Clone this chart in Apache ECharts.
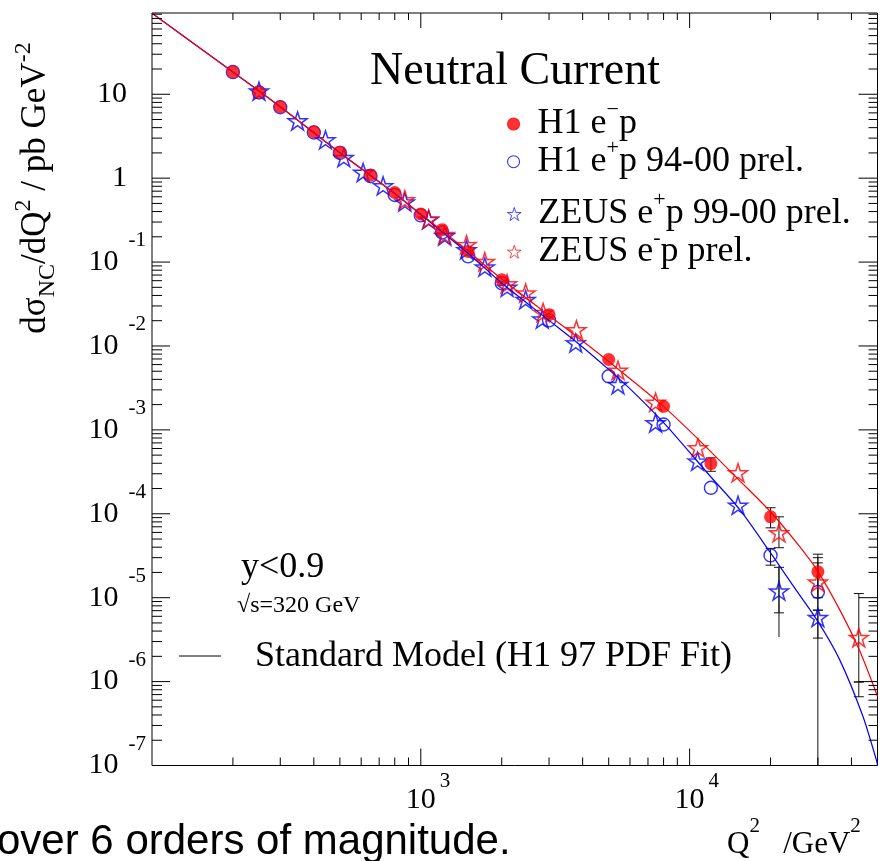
<!DOCTYPE html>
<html><head><meta charset="utf-8">
<script src="https://cdn.jsdelivr.net/npm/echarts@6/dist/echarts.min.js"></script>
<style>html,body{margin:0;padding:0;background:#fff}#c{width:882px;height:861px}</style>
</head><body><div id="c"></div>
<script>
const SERIF = 'Liberation Serif';
const SANS = 'Liberation Sans';

// ---- axis ranges and tick values ----
const X_MIN = 100, X_MAX = 50000, Y_MIN = 1e-7, Y_MAX = 93;
const xLabelValues = [1000, 10000];
const yLabelValues = [1e-7, 1e-6, 1e-5, 1e-4, 1e-3, 1e-2, 0.1, 1, 10];
const xMajorTicks = [1000, 10000];
const xMinorTicks = [200,300,400,500,600,700,800,900,2000,3000,4000,5000,6000,7000,8000,9000,20000,30000,40000];
const yMajorTicks = [1e-7, 1e-6, 1e-5, 1e-4, 1e-3, 1e-2, 0.1, 1, 10];
const yMinorMantissas = [2,3,4,5,6,7,8,9];

// ---- Standard Model curves ----
const smQ2_em = [100,200,299,497,789,997,1491,1995,2973,3900,4958,7937,10894,15080,19950,25640,29990,36110,42850,50000];
const smXS_em = [92.1,18.43,7.16,2.04,0.678,0.376,0.1363,0.0632,0.0236,0.01222,0.00668,0.001946,7.46e-4,2.63e-4,1.065e-4,4.08e-5,2.06e-5,7.26e-6,2.36e-6,6.68e-7];
const smQ2_ep = [100,200,299,497,789,997,1491,1995,2973,3900,4958,6154,8191,11869,15346,19950,24210,29990,36110,44090,49430,50000];
const smXS_ep = [92.1,18.43,7.16,2.04,0.678,0.371,0.129,0.0567,0.0206,0.01036,0.00537,0.002858,0.001125,2.86e-4,1.125e-4,3.46e-5,1.40e-5,5.22e-6,1.84e-6,3.89e-7,1.19e-7,1.02e-7];

// ---- H1 e-p (filled red) ----
const h1emQ2 = [200,250,300,400,500,650,800,1000,1200,1500,2000,3000,5000,8000,12000,20000,30000];
const h1emXS = [18.6,10.6,7.1,3.58,2.04,1.09,0.675,0.375,0.243,0.134,0.0615,0.0236,0.0069,0.00191,3.97e-4,9.2e-5,2.04e-5];
// ---- H1 e+p 94-00 (open blue circles) ----
const h1epQ2 = [200,250,300,400,500,650,800,1000,1200,1500,2000,3000,5000,8000,12000,20000,30000];
const h1epXS = [18.4,10.5,7.0,3.5,2.0,1.06,0.63,0.36,0.225,0.117,0.056,0.0202,0.00435,0.00116,2.04e-4,3.19e-5,1.17e-5];
// ---- ZEUS e+p 99-00 (blue stars) ----
const zepQ2 = [250,348,442,517,610,724,872,1070,1227,1479,1730,2094,2455,2830,3770,5414,7470,10700,15140,21500,30000];
const zepXS = [10.9,4.81,2.86,1.76,1.17,0.81,0.52,0.32,0.205,0.14,0.087,0.050,0.0356,0.0209,0.01086,0.00346,0.00121,4.23e-4,1.26e-4,1.2e-5,5.8e-6];
// ---- ZEUS e-p (red stars) ----
const zemQ2 = [872,1070,1227,1479,1730,2094,2455,2850,3793,5414,7474,10740,15140,21500,30000,42600];
const zemXS = [0.552,0.325,0.213,0.161,0.101,0.055,0.0427,0.025,0.0156,0.00513,0.00213,6.1e-4,3.08e-4,5.94e-5,1.53e-5,3.34e-6];

// ---- error bars ----
const errQ2  = [12000, 20000, 30000, 20000, 30000, 21500, 30000, 42600, 42600, 21500, 21500, 30000];
const errLo  = [3.21e-4, 6.8e-5, 1.0e-5, 2.44e-5, 1e-9, 3.94e-5, 7.1e-6, 6.6e-7, 9.9e-7, 3.4e-6, 6.6e-6, 3.3e-6];
const errHi  = [4.64e-4, 1.18e-4, 3.3e-5, 3.87e-5, 2.6e-5, 9.2e-5, 3.0e-5, 1.12e-5, 9.9e-7, 2.4e-5, 2.3e-5, 7.1e-6];
const errCap = [1, 1, 1, 1, 1, 1, 1, 1, 1, 0, 1, 1];

const STAR = 'path://M50 0L61.17 34.63L97.55 34.55L68.07 55.87L79.39 90.45L50 69L20.61 90.45L31.93 55.87L2.45 34.55L38.83 34.63Z';
const zip = (a, b) => a.map((v, i) => [v, b[i]]);

// tick marks data: [x, y, side, length]
const tickData = [];
xMajorTicks.forEach(v => { tickData.push([v, Y_MIN, 0, 17]); tickData.push([v, Y_MAX, 1, 15]); });
xMinorTicks.forEach(v => { tickData.push([v, Y_MIN, 0, 8]); tickData.push([v, Y_MAX, 1, 7]); });
yMajorTicks.forEach(v => { tickData.push([X_MIN, v, 2, 18]); tickData.push([X_MAX, v, 3, 19]); });
yMajorTicks.forEach(v => yMinorMantissas.forEach(m => {
  const t = v * m;
  if (t < Y_MAX) { tickData.push([X_MIN, t, 2, 10]); tickData.push([X_MAX, t, 3, 9]); }
}));

const errData = errQ2.map((q, i) => [q, errLo[i], errHi[i], errCap[i]]);

function renderTick(params, api) {
  const p = api.coord([api.value(0), api.value(1)]);
  const side = api.value(2), len = api.value(3);
  let x2 = p[0], y2 = p[1];
  if (side === 0) y2 -= len; else if (side === 1) y2 += len; else if (side === 2) x2 += len; else x2 -= len;
  return {type: 'line', shape: {x1: p[0], y1: p[1], x2: x2, y2: y2}, style: {stroke: '#000', lineWidth: 1}};
}
function renderErr(params, api) {
  const q = api.value(0);
  const lo = api.coord([q, api.value(1)]);
  const hi = api.coord([q, api.value(2)]);
  const cap = api.value(3);
  const children = [{type: 'line', shape: {x1: lo[0], y1: lo[1], x2: hi[0], y2: hi[1]}, style: {stroke: '#111', lineWidth: 1}}];
  if (cap) {
    children.push({type: 'line', shape: {x1: lo[0] - 5, y1: lo[1], x2: lo[0] + 5, y2: lo[1]}, style: {stroke: '#111', lineWidth: 1}});
    children.push({type: 'line', shape: {x1: hi[0] - 5, y1: hi[1], x2: hi[0] + 5, y2: hi[1]}, style: {stroke: '#111', lineWidth: 1}});
  }
  return {type: 'group', children: children};
}

const expOf = v => Math.round(Math.log10(v));
const legendNames = {
  'H1 e-p': '{t|H1 e}{s|\u2212}{t|p}',
  'H1 e+p 94-00 prel.': '{t|H1 e}{s|+}{t|p 94-00 prel.}',
  'ZEUS e+p 99-00 prel.': '{t|ZEUS e}{s|+}{t|p 99-00 prel.}',
  'ZEUS e-p prel.': '{t|ZEUS e}{s|-}{t|p prel.}'
};
const legendText = {
  fontFamily: SERIF, fontSize: 36, color: '#000', lineHeight: 49,
  rich: {
    t: {fontFamily: SERIF, fontSize: 36, lineHeight: 49, color: '#000'},
    s: {fontFamily: SERIF, fontSize: 22, lineHeight: 10, verticalAlign: 'top', color: '#000'}
  }
};

const chart = echarts.init(document.getElementById('c'), null, {renderer: 'canvas'});
chart.setOption({
  animation: false,
  backgroundColor: '#fff',
  grid: {left: 152, top: 13, width: 725.5, height: 752.5, show: true, borderColor: '#000', borderWidth: 1, backgroundColor: 'transparent'},
  xAxis: {
    type: 'log', logBase: 10, min: X_MIN, max: X_MAX,
    axisLine: {show: false}, axisTick: {show: false}, splitLine: {show: false},
    axisLabel: {
      customValues: xLabelValues, margin: 5.5,
      formatter: v => '{l| }{b|10}{s|' + expOf(v) + '}',
      rich: {
        l: {width: 14.5, fontSize: 30, lineHeight: 58},
        b: {fontFamily: SERIF, fontSize: 30, lineHeight: 58, color: '#000'},
        s: {fontFamily: SERIF, fontSize: 21, lineHeight: 10, verticalAlign: 'top', padding: [0, 0, 0, 4], color: '#000'}
      }
    }
  },
  yAxis: {
    type: 'log', logBase: 10, min: Y_MIN, max: Y_MAX,
    axisLine: {show: false}, axisTick: {show: false}, splitLine: {show: false},
    axisLabel: {
      customValues: yLabelValues, margin: 6,
      formatter: v => { const e = expOf(v); if (e === 1) return '{p|10}'; if (e === 0) return '{p|1}'; return '{b|10}{s|' + e + '}'; },
      rich: {
        p: {fontFamily: SERIF, fontSize: 30, lineHeight: 64, padding: [0, 19, 0, 0], color: '#000'},
        b: {fontFamily: SERIF, fontSize: 30, lineHeight: 64, color: '#000'},
        s: {fontFamily: SERIF, fontSize: 21, lineHeight: 10, verticalAlign: 'top', padding: [0, 0, 0, 10], color: '#000'}
      }
    }
  },
  legend: [
    {data: [{name: 'H1 e-p', icon: 'circle'}, {name: 'H1 e+p 94-00 prel.', icon: 'circle'}],
     left: 507, top: 99.5, orient: 'vertical', itemWidth: 38, itemHeight: 12, itemGap: -11.3, padding: 0,
     selectedMode: false, formatter: n => legendNames[n], textStyle: legendText, itemStyle: {borderWidth: 1.1}},
    {data: [{name: 'ZEUS e+p 99-00 prel.', icon: STAR}, {name: 'ZEUS e-p prel.', icon: STAR}],
     left: 507, top: 189.5, orient: 'vertical', itemWidth: 38, itemHeight: 13, itemGap: -11.3, padding: 0,
     selectedMode: false, formatter: n => legendNames[n], textStyle: legendText, itemStyle: {borderWidth: 0.9}}
  ],
  series: [
    {name: 'SM e+p', type: 'line', data: zip(smQ2_ep, smXS_ep), showSymbol: false, smooth: 0.25,
     lineStyle: {color: '#0000ff', width: 1.2}, itemStyle: {color: '#0000ff'}, silent: true},
    {name: 'SM e-p', type: 'line', data: zip(smQ2_em, smXS_em), showSymbol: false, smooth: 0.25,
     lineStyle: {color: '#ff0000', width: 1.2}, itemStyle: {color: '#ff0000'}, silent: true},
    {name: 'errors', type: 'custom', renderItem: renderErr, data: errData, encode: {x: 0, y: 1}, clip: true, silent: true},
    {name: 'H1 e+p 94-00 prel.', type: 'scatter', data: zip(h1epQ2, h1epXS), symbol: 'circle', symbolSize: 13,
     itemStyle: {color: 'rgba(0,0,0,0)', borderColor: '#0000ff', borderWidth: 1.4}},
    {name: 'ZEUS e+p 99-00 prel.', type: 'scatter', data: zip(zepQ2, zepXS), symbol: STAR, symbolSize: [19, 18],
     itemStyle: {color: 'rgba(0,0,0,0)', borderColor: '#0000ff', borderWidth: 1.5}},
    {name: 'ZEUS e-p prel.', type: 'scatter', data: zip(zemQ2, zemXS), symbol: STAR, symbolSize: [19, 18],
     itemStyle: {color: 'rgba(0,0,0,0)', borderColor: '#ff0000', borderWidth: 1.5}},
    {name: 'H1 e-p', type: 'scatter', data: zip(h1emQ2, h1emXS), symbol: 'circle', symbolSize: 13,
     itemStyle: {color: '#ff0000', borderColor: '#ff0000', borderWidth: 0}},
    {name: 'ticks', type: 'custom', renderItem: renderTick, data: tickData, encode: {x: 0, y: 1}, clip: false, silent: true, z: 10}
  ],
  graphic: [
    {type: 'text', x: 370, y: 72, style: {text: 'Neutral Current', fontFamily: SERIF, fontSize: 46, fill: '#000', align: 'left', verticalAlign: 'middle'}},
    {type: 'text', x: 241, y: 568, style: {text: 'y<0.9', fontFamily: SERIF, fontSize: 36, fill: '#000', align: 'left', verticalAlign: 'middle'}},
    {type: 'text', x: 237, y: 606, style: {text: '\u221As=320 GeV', fontFamily: SERIF, fontSize: 24, fill: '#000', align: 'left', verticalAlign: 'middle'}},
    {type: 'line', shape: {x1: 179, y1: 656, x2: 221, y2: 656}, style: {stroke: '#000', lineWidth: 1}},
    {type: 'text', x: 255, y: 657, style: {text: 'Standard Model (H1 97 PDF Fit)', fontFamily: SERIF, fontSize: 36, fill: '#000', align: 'left', verticalAlign: 'middle'}},
    {type: 'text', x: 727, y: 845, style: {
      text: '{t|Q}{s|2}{t|   /GeV}{s|2}', align: 'left', verticalAlign: 'middle', fontFamily: SERIF, fontSize: 31, fill: '#000',
      rich: {t: {fontFamily: SERIF, fontSize: 31, lineHeight: 58, fill: '#000'}, s: {fontFamily: SERIF, fontSize: 21, lineHeight: 10, verticalAlign: 'top', fill: '#000'}}}},
    {type: 'text', x: -3, y: 842, style: {text: 'over 6 orders of magnitude.', fontFamily: SANS, fontSize: 42, fill: '#000', align: 'left', verticalAlign: 'middle'}},
    {type: 'text', x: 36, y: 188, rotation: Math.PI / 2, style: {
      text: '{t|d\u03C3}{d|NC}{t|/dQ}{u|2}{t| / pb GeV}{u|-2}', align: 'center', verticalAlign: 'middle', fontFamily: SERIF, fontSize: 35, fill: '#000',
      rich: {
        t: {fontFamily: SERIF, fontSize: 35, lineHeight: 48, fill: '#000'},
        u: {fontFamily: SERIF, fontSize: 24, lineHeight: 10, verticalAlign: 'top', fill: '#000'},
        d: {fontFamily: SERIF, fontSize: 24, lineHeight: 10, verticalAlign: 'bottom', fill: '#000'}
      }}}
  ]
});
</script>
</body></html>
